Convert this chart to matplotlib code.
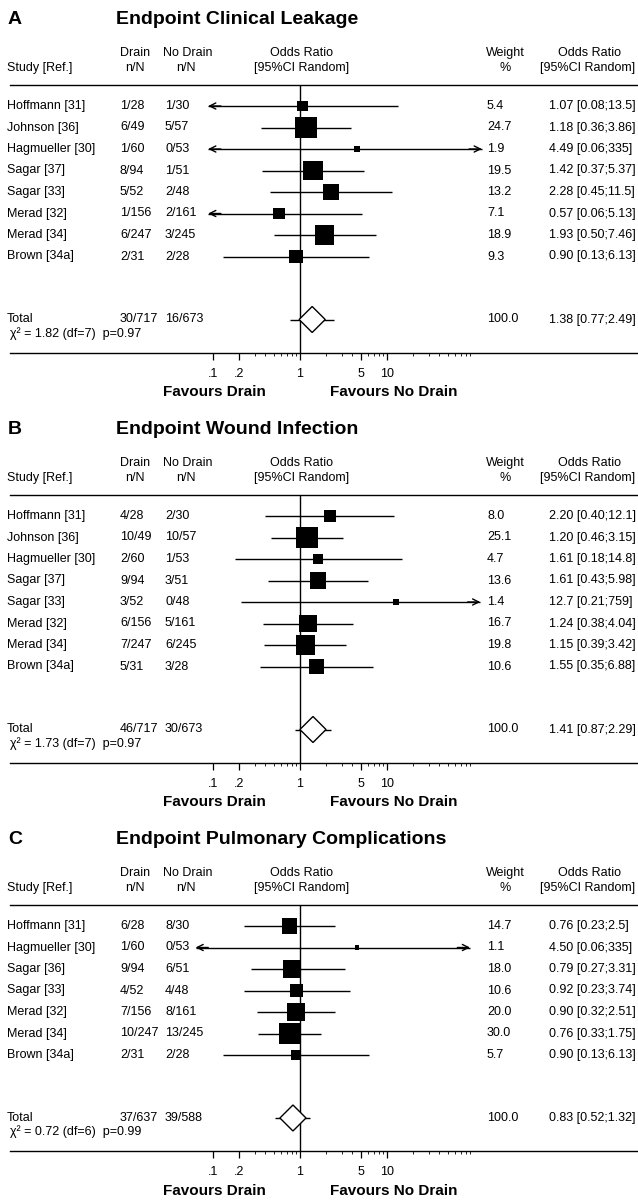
import numpy as np
import matplotlib.pyplot as plt
from matplotlib.patches import Polygon
from matplotlib.ticker import NullFormatter
from matplotlib.transforms import blended_transform_factory

plt.rcParams['font.family'] = ['Liberation Sans', 'DejaVu Sans']

# ---- data ----
studies_a = ['Hoffmann [31]', 'Johnson [36]', 'Hagmueller [30]', 'Sagar [37]',
             'Sagar [33]', 'Merad [32]', 'Merad [34]', 'Brown [34a]']
drain_a = ['1/28', '6/49', '1/60', '8/94', '5/52', '1/156', '6/247', '2/31']
nodrain_a = ['1/30', '5/57', '0/53', '1/51', '2/48', '2/161', '3/245', '2/28']
weight_a = [5.4, 24.7, 1.9, 19.5, 13.2, 7.1, 18.9, 9.3]
or_a = [1.07, 1.18, 4.49, 1.42, 2.28, 0.57, 1.93, 0.90]
lo_a = [0.08, 0.36, 0.06, 0.37, 0.45, 0.06, 0.50, 0.13]
hi_a = [13.5, 3.86, 335, 5.37, 11.5, 5.13, 7.46, 6.13]
total_a = ['30/717', '16/673', 1.38, 0.77, 2.49]
chi_a = '\u03c7\u00b2 = 1.82 (df=7)  p=0.97'

studies_b = ['Hoffmann [31]', 'Johnson [36]', 'Hagmueller [30]', 'Sagar [37]',
             'Sagar [33]', 'Merad [32]', 'Merad [34]', 'Brown [34a]']
drain_b = ['4/28', '10/49', '2/60', '9/94', '3/52', '6/156', '7/247', '5/31']
nodrain_b = ['2/30', '10/57', '1/53', '3/51', '0/48', '5/161', '6/245', '3/28']
weight_b = [8.0, 25.1, 4.7, 13.6, 1.4, 16.7, 19.8, 10.6]
or_b = [2.20, 1.20, 1.61, 1.61, 12.7, 1.24, 1.15, 1.55]
lo_b = [0.40, 0.46, 0.18, 0.43, 0.21, 0.38, 0.39, 0.35]
hi_b = [12.1, 3.15, 14.8, 5.98, 759, 4.04, 3.42, 6.88]
total_b = ['46/717', '30/673', 1.41, 0.87, 2.29]
chi_b = '\u03c7\u00b2 = 1.73 (df=7)  p=0.97'

studies_c = ['Hoffmann [31]', 'Hagmueller [30]', 'Sagar [36]', 'Sagar [33]',
             'Merad [32]', 'Merad [34]', 'Brown [34a]']
drain_c = ['6/28', '1/60', '9/94', '4/52', '7/156', '10/247', '2/31']
nodrain_c = ['8/30', '0/53', '6/51', '4/48', '8/161', '13/245', '2/28']
weight_c = [14.7, 1.1, 18.0, 10.6, 20.0, 30.0, 5.7]
or_c = [0.76, 4.50, 0.79, 0.92, 0.90, 0.76, 0.90]
lo_c = [0.23, 0.06, 0.27, 0.23, 0.32, 0.33, 0.13]
hi_c = [2.5, 335, 3.31, 3.74, 2.51, 1.75, 6.13]
total_c = ['37/637', '39/588', 0.83, 0.52, 1.32]
chi_c = '\u03c7\u00b2 = 0.72 (df=6)  p=0.99'

tick_vals = [0.1, 0.2, 1, 5, 10]
tick_labels = ['.1', '.2', '1', '5', '10']
minor_vals = [0.3, 0.4, 0.5, 0.6, 0.7, 0.8, 0.9, 2, 3, 4, 6, 7, 8, 9,
              20, 30, 40, 50, 60, 70, 80, 90]

# ---- layout (pixels) ----
W, H = 638, 1202
X1, DEC = 300, 87          # pixel of OR=1, pixels per decade
XLIM = (10 ** (-X1 / DEC), 10 ** ((W - X1) / DEC))
FS = 9
BOX_MAX = 250              # marker area (pt^2) of the heaviest study

fig = plt.figure(figsize=(W / 100, H / 100), dpi=100)


def fx(p):
    return p / W


def fmt_ci(o, l, h):
    o_s = f'{o:.2f}' if o < 10 else f'{o:.3g}'
    return f'{o_s} [{l:.2f};{h:.3g}]'


def draw_panel(top, letter, title, studies, drain, nodrain, weight, odds, lo, hi,
               total, chi, clip):
    rows = 106 + 21.5 * np.arange(len(studies))
    y_tot = rows[-1] + 63
    y_chi = y_tot + 14
    y_axis = y_tot + 33

    ax = fig.add_axes([0, 1 - (top + y_axis) / H, 1, y_axis / H])
    ax.set_xscale('log')
    ax.set_xlim(XLIM)
    ax.set_ylim(y_axis, 0)
    for s in ['top', 'left', 'right']:
        ax.spines[s].set_visible(False)
    ax.spines['bottom'].set_linewidth(1.0)
    ax.spines['bottom'].set_bounds(10 ** ((10 - X1) / DEC), XLIM[1])
    ax.set_yticks([])
    ax.set_xticks(tick_vals)
    ax.set_xticklabels(tick_labels)
    ax.set_xticks(minor_vals, minor=True)
    ax.xaxis.set_minor_formatter(NullFormatter())
    ax.tick_params(which='major', length=5, width=0.9, labelsize=FS, pad=6)
    ax.tick_params(which='minor', length=2, width=0.6)
    ax.patch.set_alpha(0)

    tr = blended_transform_factory(ax.transAxes, ax.transData)

    def txt(x, y, s, **kw):
        kw.setdefault('fontsize', FS)
        kw.setdefault('va', 'center')
        ax.text(fx(x), y, s, transform=tr, **kw)

    # titles
    txt(8, 20, letter, fontsize=14, fontweight='bold')
    txt(116, 20, title, fontsize=14, fontweight='bold')

    # header
    txt(7, 68, 'Study [Ref.]')
    txt(135, 53, 'Drain', ha='center')
    txt(135, 68, 'n/N', ha='center')
    txt(188, 53, 'No Drain', ha='center')
    txt(186, 68, 'n/N', ha='center')
    txt(302, 53, 'Odds Ratio', ha='center')
    txt(302, 68, '[95%CI Random]', ha='center')
    txt(505, 53, 'Weight', ha='center')
    txt(505, 68, '%', ha='center')
    txt(590, 53, 'Odds Ratio', ha='center')
    txt(588, 68, '[95%CI Random]', ha='center')
    ax.axhline(85, xmin=fx(10), xmax=1, color='black', lw=1.0)

    # reference line at OR = 1
    ax.vlines(1, 85, y_axis, color='black', lw=1.0)

    # study rows
    for i, y in enumerate(rows):
        txt(7, y, studies[i])
        txt(120, y, drain[i])
        txt(165, y, nodrain[i])
        txt(487, y, f'{weight[i]:.1f}')
        txt(549, y, fmt_ci(odds[i], lo[i], hi[i]))

        l, h = max(lo[i], clip[0]), min(hi[i], clip[1])
        ax.hlines(y, l, h, color='black', lw=1.0)
        if lo[i] < clip[0]:
            ax.annotate('', xy=(l, y), xytext=(l * 1.4, y),
                        arrowprops=dict(arrowstyle='->', lw=1.0, color='black',
                                        shrinkA=0, shrinkB=0, mutation_scale=11))
        if hi[i] > clip[1]:
            ax.annotate('', xy=(h, y), xytext=(h / 1.4, y),
                        arrowprops=dict(arrowstyle='->', lw=1.0, color='black',
                                        shrinkA=0, shrinkB=0, mutation_scale=11))

    wmax = max(weight)
    ax.scatter(odds, rows, s=[BOX_MAX * w / wmax for w in weight], marker='s',
               color='black', linewidths=0, zorder=3)

    # total
    t_drain, t_nodrain, t_or, t_lo, t_hi = total
    txt(7, y_tot, 'Total')
    txt(120, y_tot, t_drain)
    txt(165, y_tot, t_nodrain)
    txt(487, y_tot, '100.0')
    txt(549, y_tot, fmt_ci(t_or, t_lo, t_hi))
    txt(10, y_chi, chi)
    ax.hlines(y_tot, t_lo, t_hi, color='black', lw=1.0)
    d = 10 ** 0.15
    ax.add_patch(Polygon([(t_or / d, y_tot), (t_or, y_tot - 13),
                          (t_or * d, y_tot), (t_or, y_tot + 13)],
                         closed=True, facecolor='white', edgecolor='black',
                         lw=1.0, zorder=4))

    # favours labels
    txt(163, y_axis + 40, 'Favours Drain', fontsize=11, fontweight='bold')
    txt(330, y_axis + 40, 'Favours No Drain', fontsize=11, fontweight='bold')


draw_panel(0, 'A', 'Endpoint Clinical Leakage', studies_a, drain_a, nodrain_a,
           weight_a, or_a, lo_a, hi_a, total_a, chi_a, (0.088, 123))
draw_panel(410, 'B', 'Endpoint Wound Infection', studies_b, drain_b, nodrain_b,
           weight_b, or_b, lo_b, hi_b, total_b, chi_b, (0.088, 118))
draw_panel(820, 'C', 'Endpoint Pulmonary Complications', studies_c, drain_c,
           nodrain_c, weight_c, or_c, lo_c, hi_c, total_c, chi_c, (0.063, 90))

fig.savefig('out.png', dpi=100)
